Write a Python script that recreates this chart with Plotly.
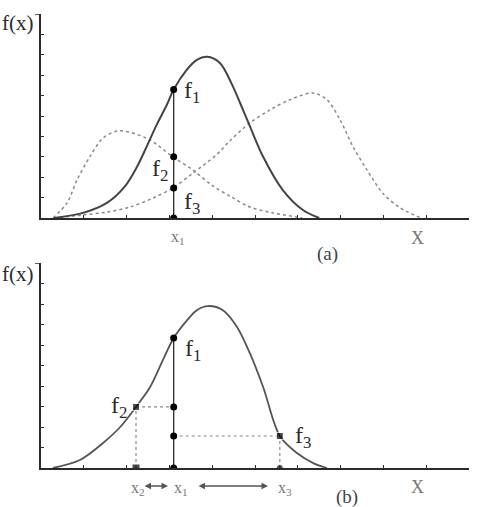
import plotly.graph_objects as go

# ---------------- data ----------------
# panel (a): solid curve
a_solid_x = [0.3, 0.98, 1.54, 1.96, 2.24, 2.48, 2.71, 2.94, 3.1, 3.4, 3.64, 3.88, 4.18, 4.45, 4.72, 4.88, 5.19, 5.65, 6.12, 6.5]
a_solid_y = [0.0, 0.25, 0.74, 1.55, 2.5, 3.55, 4.6, 5.55, 6.3, 7.25, 7.75, 7.9, 7.6, 6.6, 5.3, 4.5, 3.0, 1.37, 0.39, 0.0]
# panel (a): left dotted curve
a_dot1_x = [0.28, 0.61, 0.84, 1.14, 1.45, 1.78, 2.08, 2.55, 3.08, 3.55, 4.0, 4.45, 4.88, 5.42, 5.98, 6.1]
a_dot1_y = [0.0, 0.74, 1.86, 3.0, 3.92, 4.26, 4.2, 3.82, 3.0, 2.35, 1.6, 1.03, 0.54, 0.25, 0.05, 0.0]
# panel (a): right dotted curve
a_dot2_x = [0.3, 0.98, 1.54, 2.08, 2.62, 3.08, 3.55, 4.1, 4.42, 4.88, 5.35, 5.82, 6.35, 6.68, 6.99, 7.29, 7.62, 7.99, 8.39, 8.86]
a_dot2_y = [0.0, 0.15, 0.29, 0.54, 0.98, 1.47, 2.2, 3.1, 3.8, 4.66, 5.3, 5.8, 6.13, 5.8, 4.8, 3.5, 2.35, 1.2, 0.5, 0.02]
# panel (a): points at x1
a_pts_x = [3.1, 3.1, 3.1, 3.1]
a_pts_y = [6.3, 3.0, 1.47, 0.0]

# panel (b): solid curve
b_solid_x = [0.28, 0.91, 1.45, 1.85, 2.22, 2.55, 2.85, 3.1, 3.41, 3.64, 3.9, 4.25, 4.58, 4.88, 5.19, 5.58, 5.98, 6.36, 6.68]
b_solid_y = [0.0, 0.39, 1.22, 2.0, 2.98, 3.95, 5.27, 6.34, 7.2, 7.7, 7.9, 7.7, 6.88, 5.6, 3.95, 1.56, 0.73, 0.24, 0.0]
x1, x2, x3 = 3.1, 2.22, 5.58
f1, f2, f3 = 6.34, 2.98, 1.56

DARK = "#2b2b2b"
GREY = "#8a8a8a"
SERIF = "Liberation Serif, Times New Roman, serif"
W, H = 478, 507

fig = go.Figure()

# ---- panel (a)
fig.add_trace(go.Scatter(x=a_dot1_x, y=a_dot1_y, mode="lines", line=dict(color=GREY, width=1.5, dash="dot", shape="spline", smoothing=0.9), xaxis="x", yaxis="y"))
fig.add_trace(go.Scatter(x=a_dot2_x, y=a_dot2_y, mode="lines", line=dict(color=GREY, width=1.5, dash="dot", shape="spline", smoothing=0.9), xaxis="x", yaxis="y"))
fig.add_trace(go.Scatter(x=a_solid_x, y=a_solid_y, mode="lines", line=dict(color="#444", width=2, shape="spline", smoothing=0.9), xaxis="x", yaxis="y"))
fig.add_trace(go.Scatter(x=[x1, x1], y=[0, a_pts_y[0]], mode="lines", line=dict(color=DARK, width=1.3), xaxis="x", yaxis="y"))
fig.add_trace(go.Scatter(x=a_pts_x, y=a_pts_y, mode="markers", marker=dict(color="black", size=7), xaxis="x", yaxis="y"))

# ---- panel (b)
fig.add_trace(go.Scatter(x=b_solid_x, y=b_solid_y, mode="lines", line=dict(color="#555", width=1.8, shape="spline", smoothing=0.9), xaxis="x2", yaxis="y2"))
fig.add_trace(go.Scatter(x=[x1, x1], y=[0, f1], mode="lines", line=dict(color=DARK, width=1.3), xaxis="x2", yaxis="y2"))
for xs, ys in [([x2, x1], [f2, f2]), ([x1, x3], [f3, f3]), ([x2, x2], [0, f2]), ([x3, x3], [0, f3])]:
    fig.add_trace(go.Scatter(x=xs, y=ys, mode="lines", line=dict(color=GREY, width=1.2, dash="dot"), xaxis="x2", yaxis="y2"))
fig.add_trace(go.Scatter(x=[x1, x1, x1, x1], y=[f1, f2, f3, 0], mode="markers", marker=dict(color="black", size=7), xaxis="x2", yaxis="y2"))
fig.add_trace(go.Scatter(x=[x2, x3, x2, x3], y=[f2, f3, 0, 0], mode="markers", marker=dict(color="black", size=[7, 7, 8, 7], symbol=["square", "square", "square", "circle"]), xaxis="x2", yaxis="y2"))

ax_common = dict(range=[0, 10], showgrid=False, zeroline=False, showline=True, linecolor=DARK,
                 ticks="inside", ticklen=3, tickcolor=DARK, dtick=1, showticklabels=False, fixedrange=True)
xa = dict(ax_common, linewidth=2)
ya = dict(ax_common, linewidth=1.5)

fig.update_layout(
    width=W, height=H, margin=dict(l=0, r=0, t=0, b=0),
    paper_bgcolor="white", plot_bgcolor="white", showlegend=False,
    xaxis=dict(xa, domain=[41/W, 469/W], anchor="y"),
    yaxis=dict(ya, domain=[1-218/H, 1-14/H], anchor="x"),
    xaxis2=dict(xa, domain=[41/W, 469/W], anchor="y2"),
    yaxis2=dict(ya, domain=[1-468/H, 1-263/H], anchor="x2"),
)

def txt(x, y, s, size, xref, yref, color=DARK):
    fig.add_annotation(x=x, y=y, text=s, showarrow=False, xref=xref, yref=yref,
                       font=dict(family=SERIF, size=size, color=color), xanchor="center", yanchor="middle")

def ptxt(px, py, s, size, color=DARK):
    txt(px/W, 1-py/H, s, size, "paper", "paper", color)

# labels panel (a)
txt(3.53, 6.18, "f<sub>1</sub>", 24, "x", "y")
txt(2.78, 2.35, "f<sub>2</sub>", 24, "x", "y")
txt(3.53, 0.74, "f<sub>3</sub>", 24, "x", "y")
ptxt(178, 238, "x<sub>1</sub>", 16, "#777")
ptxt(417, 238, "X", 18, "#777")
ptxt(327, 254, "(a)", 19, "#444")
ptxt(17, 23, "f(x)", 21)

# labels panel (b)
txt(3.55, 5.76, "f<sub>1</sub>", 24, "x2", "y2")
txt(1.82, 2.98, "f<sub>2</sub>", 24, "x2", "y2")
txt(6.12, 1.51, "f<sub>3</sub>", 24, "x2", "y2")
ptxt(138, 488, "x<sub>2</sub>", 16, "#777")
ptxt(181, 488, "x<sub>1</sub>", 16, "#777")
ptxt(285, 488, "x<sub>3</sub>", 16, "#777")
ptxt(417, 487, "X", 18, "#777")
ptxt(347, 497, "(b)", 19, "#444")
ptxt(17, 274, "f(x)", 21)

# double arrows panel (b)
ay_p = 1 - 486/H
for px0, px1 in [(143, 168), (197, 268)]:
    fig.add_annotation(x=px1/W, y=ay_p, ax=px0 - px1, ay=0, xref="paper", yref="paper", axref="pixel", ayref="pixel",
                       text="", showarrow=True, arrowhead=2, arrowside="end+start", arrowsize=1,
                       arrowwidth=1.3, arrowcolor="#555")

# top-of-axis stubs ("]" shape)
for yr in ["y", "y2"]:
    fig.add_shape(type="line", xref="paper", yref=yr, x0=35/W, x1=41/W, y0=10, y1=10,
                  line=dict(color=DARK, width=1.5))

fig.write_html("out.html")
